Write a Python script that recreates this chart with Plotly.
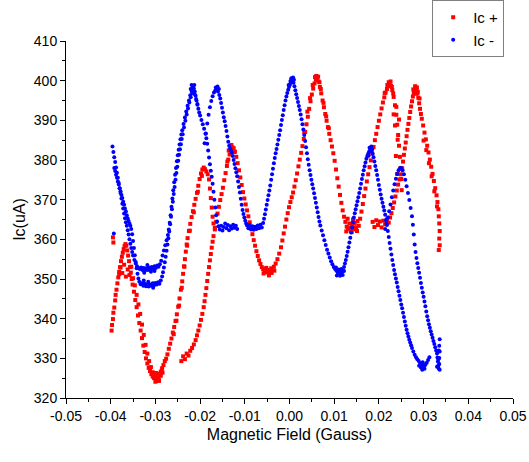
import plotly.graph_objects as go

# Critical current Ic+ (red) and Ic- (blue) versus applied magnetic field.
# Each sweep is stored as (field [G], current [uA]) pairs.

ic_plus_left = [
    (-0.0398, 337.0), (-0.0397, 338.4), (-0.0395, 339.9), (-0.0394, 341.5), (-0.0392, 342.8), (-0.0390, 344.6),
    (-0.0389, 346.0), (-0.0387, 347.3), (-0.0385, 348.9), (-0.0383, 350.4), (-0.0381, 351.8), (-0.0379, 353.0),
    (-0.0377, 354.5), (-0.0375, 355.6), (-0.0373, 356.6), (-0.0371, 357.5), (-0.0369, 358.3), (-0.0367, 358.8),
    (-0.0365, 358.4), (-0.0363, 357.2), (-0.0361, 355.9), (-0.0359, 354.5), (-0.0357, 353.0), (-0.0355, 351.6),
    (-0.0353, 350.0), (-0.0351, 348.6), (-0.0348, 346.8), (-0.0345, 344.7), (-0.0342, 342.9), (-0.0339, 340.8),
    (-0.0336, 338.9), (-0.0333, 337.0), (-0.0330, 335.1), (-0.0327, 333.2), (-0.0324, 331.6), (-0.0321, 330.0),
    (-0.0318, 328.7), (-0.0315, 327.6), (-0.0312, 326.8), (-0.0309, 326.0), (-0.0306, 325.4), (-0.0303, 325.0),
    (-0.0300, 325.6), (-0.0297, 324.7), (-0.0294, 325.3), (-0.0291, 326.0), (-0.0288, 326.6), (-0.0285, 327.5),
    (-0.0282, 328.3), (-0.0279, 329.3), (-0.0276, 329.9), (-0.0273, 331.0), (-0.0270, 332.4), (-0.0267, 333.7),
    (-0.0264, 335.0), (-0.0261, 336.5), (-0.0258, 337.9), (-0.0255, 339.4), (-0.0252, 341.1), (-0.0249, 343.0),
    (-0.0246, 345.1), (-0.0243, 347.3), (-0.0240, 349.4), (-0.0238, 351.3), (-0.0236, 353.2), (-0.0234, 355.0),
    (-0.0232, 356.9), (-0.0230, 358.7), (-0.0228, 360.3), (-0.0225, 362.1), (-0.0222, 363.9), (-0.0219, 365.6),
    (-0.0216, 367.1), (-0.0213, 368.7), (-0.0210, 370.2), (-0.0207, 371.7), (-0.0204, 373.5), (-0.0201, 375.2),
    (-0.0198, 376.6), (-0.0195, 377.6), (-0.0192, 378.1), (-0.0189, 377.7), (-0.0186, 377.1), (-0.0183, 376.4),
    (-0.0180, 375.1), (-0.0178, 372.8), (-0.0176, 370.4), (-0.0174, 368.0), (-0.0172, 365.7), (-0.0170, 364.0),
    (-0.0167, 362.9),
]

ic_plus_left_band = [
    (-0.0395, 360.5), (-0.0394, 359.2), (-0.0381, 351.2), (-0.0378, 352.9), (-0.0374, 351.5), (-0.0370, 353.6),
    (-0.0366, 350.6), (-0.0362, 352.4), (-0.0358, 351.0), (-0.0354, 353.1), (-0.0350, 350.2), (-0.0346, 348.4),
    (-0.0342, 346.0), (-0.0338, 343.6), (-0.0334, 341.2), (-0.0330, 338.5), (-0.0326, 335.9), (-0.0322, 333.4),
    (-0.0318, 331.2), (-0.0314, 329.3), (-0.0310, 327.8), (-0.0306, 326.5), (-0.0302, 325.9), (-0.0298, 326.3),
    (-0.0292, 324.5), (-0.0289, 325.9), (-0.0286, 326.9),
]

ic_plus_mid = [
    (-0.0242, 329.3), (-0.0238, 330.5), (-0.0234, 329.8), (-0.0230, 331.2), (-0.0226, 330.7), (-0.0222, 331.9),
    (-0.0218, 332.6), (-0.0214, 333.5), (-0.0210, 334.6), (-0.0207, 335.8), (-0.0204, 337.0), (-0.0201, 338.3),
    (-0.0198, 339.7), (-0.0195, 341.2), (-0.0192, 342.9), (-0.0190, 344.4), (-0.0188, 346.0), (-0.0186, 347.7),
    (-0.0184, 349.5), (-0.0182, 351.3), (-0.0180, 353.0), (-0.0178, 354.7), (-0.0176, 356.3), (-0.0174, 357.9),
    (-0.0172, 359.4), (-0.0170, 360.8), (-0.0167, 362.5), (-0.0164, 364.4), (-0.0161, 366.5), (-0.0158, 368.2),
    (-0.0155, 369.9), (-0.0152, 371.4), (-0.0149, 373.0), (-0.0146, 374.9), (-0.0143, 376.7), (-0.0140, 378.5),
    (-0.0137, 380.1), (-0.0134, 381.4), (-0.0131, 382.4), (-0.0128, 383.2), (-0.0125, 383.0), (-0.0122, 382.1),
    (-0.0119, 380.8), (-0.0116, 379.2), (-0.0113, 377.4), (-0.0110, 375.6), (-0.0107, 373.7), (-0.0104, 371.9),
    (-0.0101, 370.3), (-0.0098, 368.8), (-0.0095, 367.3), (-0.0092, 365.8), (-0.0089, 364.3), (-0.0086, 362.8),
    (-0.0083, 361.3), (-0.0080, 359.8), (-0.0077, 358.4), (-0.0074, 357.0), (-0.0071, 355.8), (-0.0068, 354.7),
    (-0.0065, 353.8), (-0.0062, 353.0), (-0.0059, 352.5), (-0.0056, 352.0), (-0.0053, 351.7), (-0.0050, 352.3),
    (-0.0047, 351.6), (-0.0044, 352.1), (-0.0041, 352.7), (-0.0038, 352.3), (-0.0035, 353.1), (-0.0031, 353.9),
    (-0.0027, 355.0), (-0.0023, 356.4), (-0.0019, 358.0), (-0.0016, 359.7), (-0.0013, 361.5), (-0.0010, 363.2),
    (-0.0007, 365.0), (-0.0004, 366.6), (-0.0001, 368.1), (0.0002, 369.4), (0.0005, 370.6), (0.0008, 371.8),
    (0.0011, 373.3), (0.0014, 374.9), (0.0017, 376.6), (0.0020, 378.4), (0.0023, 380.1), (0.0026, 381.8),
    (0.0029, 383.5), (0.0032, 385.3), (0.0035, 387.1), (0.0038, 389.0), (0.0041, 390.9), (0.0044, 392.9),
    (0.0047, 394.8), (0.0050, 396.5), (0.0053, 398.0), (0.0056, 399.3), (0.0059, 400.2), (0.0062, 400.6),
    (0.0065, 399.8), (0.0068, 398.4), (0.0071, 396.8), (0.0074, 395.0), (0.0077, 393.3), (0.0080, 391.6),
    (0.0083, 389.9), (0.0086, 388.3), (0.0089, 386.6), (0.0092, 385.0), (0.0095, 383.4), (0.0098, 381.7),
    (0.0101, 379.8), (0.0104, 377.6), (0.0107, 375.4), (0.0110, 373.3), (0.0113, 371.2), (0.0116, 369.2),
    (0.0119, 367.3), (0.0122, 365.7), (0.0125, 364.4), (0.0128, 363.2), (0.0131, 362.6), (0.0134, 364.0),
    (0.0137, 362.3), (0.0140, 363.7), (0.0143, 362.5), (0.0146, 364.1), (0.0149, 363.0), (0.0152, 364.6),
    (0.0155, 363.4), (0.0158, 365.2), (0.0161, 367.0), (0.0164, 368.9), (0.0167, 370.9), (0.0170, 372.8),
    (0.0173, 374.6), (0.0176, 376.4), (0.0179, 378.2), (0.0182, 379.9), (0.0185, 381.6), (0.0188, 383.3),
    (0.0191, 385.0), (0.0194, 386.6), (0.0197, 388.3), (0.0200, 389.9), (0.0203, 391.5), (0.0206, 393.0),
    (0.0209, 394.5), (0.0212, 395.8), (0.0215, 397.0), (0.0218, 397.9), (0.0221, 398.6), (0.0224, 399.1),
    (0.0227, 398.7), (0.0230, 397.6), (0.0233, 395.9), (0.0236, 393.8), (0.0239, 391.4), (0.0241, 388.9),
    (0.0243, 386.3), (0.0245, 383.6), (0.0247, 380.8), (0.0249, 378.0), (0.0250, 375.2), (0.0251, 372.4),
]

ic_plus_right = [
    (0.0186, 364.4), (0.0190, 363.1), (0.0194, 364.8), (0.0198, 363.6), (0.0202, 364.5), (0.0206, 363.0),
    (0.0210, 364.7), (0.0214, 363.8), (0.0218, 365.0), (0.0222, 364.2), (0.0225, 365.5), (0.0228, 366.6),
    (0.0231, 367.9), (0.0234, 369.3), (0.0237, 370.8), (0.0240, 372.3), (0.0243, 373.8), (0.0246, 375.1),
    (0.0249, 376.4), (0.0252, 377.9), (0.0254, 379.6), (0.0256, 381.3), (0.0258, 382.9), (0.0260, 384.4),
    (0.0262, 386.0), (0.0264, 387.6), (0.0266, 389.1), (0.0268, 390.6), (0.0270, 392.1), (0.0272, 393.5),
    (0.0274, 394.8), (0.0276, 396.0), (0.0278, 396.9), (0.0280, 397.6), (0.0282, 398.0), (0.0284, 397.6),
    (0.0286, 396.8), (0.0288, 395.7), (0.0290, 394.3), (0.0292, 392.9), (0.0294, 391.6), (0.0296, 390.4),
    (0.0299, 388.7), (0.0302, 386.9), (0.0305, 385.2), (0.0308, 383.6), (0.0311, 381.9), (0.0314, 380.1),
    (0.0317, 378.3), (0.0320, 376.5), (0.0323, 374.7), (0.0326, 372.9), (0.0329, 371.1), (0.0331, 369.4),
    (0.0333, 367.6), (0.0334, 365.8), (0.0335, 364.0), (0.0336, 362.1), (0.0335, 360.2), (0.0336, 358.5),
    (0.0334, 357.3),
    (0.0233, 391.5), (0.0236, 388.7), (0.0239, 393.4), (0.0242, 385.1), (0.0245, 390.2), (0.0238, 381.0),
    (0.0241, 376.5),
]

# scattered readings that thicken the red traces around turning points
ic_plus_spread = [
    (-0.0300, 324.1), (-0.0296, 326.0), (-0.0292, 324.3), (-0.0288, 325.6), (-0.0304, 326.3), (-0.0284, 326.4),
    (-0.0259, 336.1), (-0.0253, 339.5), (-0.0247, 343.3), (-0.0241, 347.8), (-0.0235, 353.1), (-0.0229, 358.4),
    (-0.0223, 362.2), (-0.0214, 366.8), (-0.0205, 372.0), (-0.0196, 376.0),
    (-0.0136, 382.4), (-0.0130, 383.8), (-0.0124, 382.0), (-0.0139, 379.6),
    (-0.0058, 351.4), (-0.0052, 352.8), (-0.0046, 350.9), (-0.0040, 351.5), (-0.0034, 352.1),
    (0.0033, 387.0), (0.0040, 392.2), (0.0046, 395.6), (0.0052, 398.9), (0.0057, 400.9), (0.0060, 401.2),
    (0.0064, 401.0), (0.0067, 399.6), (0.0070, 397.9), (0.0076, 394.4), (0.0082, 391.0), (0.0088, 388.0),
    (0.0127, 362.0), (0.0133, 362.9), (0.0139, 361.8), (0.0145, 363.0), (0.0151, 362.1), (0.0130, 365.2),
    (0.0142, 365.0),
    (0.0213, 396.9), (0.0219, 398.9), (0.0222, 399.6), (0.0226, 399.8), (0.0229, 398.4), (0.0232, 396.8),
    (0.0277, 397.8), (0.0281, 398.6), (0.0285, 398.3), (0.0283, 396.7), (0.0287, 397.2), (0.0291, 395.5),
    (0.0300, 384.9), (0.0306, 382.5), (0.0312, 379.2), (0.0318, 375.9), (0.0324, 372.1), (0.0330, 368.3),
]

ic_minus_upper = [
    (-0.0396, 383.4), (-0.0394, 382.0), (-0.0392, 380.7), (-0.0390, 379.5), (-0.0388, 378.1), (-0.0386, 376.8),
    (-0.0384, 375.5), (-0.0382, 374.2), (-0.0380, 372.9), (-0.0378, 371.7), (-0.0376, 370.3), (-0.0374, 369.0),
    (-0.0372, 367.8), (-0.0370, 366.5), (-0.0368, 365.3), (-0.0366, 364.3), (-0.0364, 363.4), (-0.0362, 362.3),
    (-0.0360, 361.2), (-0.0358, 360.0), (-0.0356, 358.9), (-0.0354, 357.8), (-0.0352, 356.8), (-0.0350, 355.9),
    (-0.0347, 354.8), (-0.0344, 353.9), (-0.0341, 353.2), (-0.0338, 352.8), (-0.0335, 352.5), (-0.0332, 352.9),
    (-0.0329, 352.3), (-0.0326, 352.8), (-0.0323, 352.2), (-0.0320, 352.7), (-0.0317, 352.3), (-0.0314, 352.9),
    (-0.0311, 352.4), (-0.0308, 353.0), (-0.0305, 352.5), (-0.0302, 353.2), (-0.0299, 352.8), (-0.0296, 353.4),
    (-0.0293, 353.1), (-0.0290, 353.7), (-0.0287, 354.6), (-0.0284, 355.9), (-0.0281, 357.2), (-0.0278, 358.5),
    (-0.0275, 359.8), (-0.0272, 361.1), (-0.0270, 362.5), (-0.0268, 364.2), (-0.0266, 366.1), (-0.0264, 368.2),
    (-0.0262, 370.3), (-0.0260, 372.4), (-0.0258, 374.4), (-0.0256, 376.3), (-0.0254, 378.0), (-0.0252, 379.7),
    (-0.0250, 381.2), (-0.0248, 382.6), (-0.0246, 383.9), (-0.0244, 385.2), (-0.0242, 386.4), (-0.0240, 387.5),
    (-0.0237, 389.1), (-0.0234, 390.7), (-0.0231, 392.2), (-0.0228, 393.7), (-0.0225, 395.0), (-0.0222, 396.3),
    (-0.0219, 397.4), (-0.0216, 398.3), (-0.0214, 398.0), (-0.0212, 397.3), (-0.0210, 396.2), (-0.0208, 395.0),
    (-0.0206, 393.9), (-0.0204, 392.9), (-0.0202, 392.0), (-0.0200, 391.2), (-0.0197, 390.1), (-0.0194, 389.0),
    (-0.0191, 387.9), (-0.0188, 386.6), (-0.0186, 385.5), (-0.0184, 384.1), (-0.0182, 382.4), (-0.0180, 380.6),
    (-0.0178, 378.9), (-0.0176, 377.3), (-0.0174, 375.8), (-0.0172, 374.0), (-0.0170, 372.0), (-0.0168, 370.0),
    (-0.0166, 368.0), (-0.0164, 366.1), (-0.0162, 364.5), (-0.0159, 363.3), (-0.0156, 362.5), (-0.0153, 363.4),
    (-0.0150, 362.2), (-0.0147, 363.1), (-0.0144, 364.0), (-0.0141, 362.8), (-0.0138, 363.6), (-0.0135, 362.3),
    (-0.0132, 363.3), (-0.0129, 362.7), (-0.0126, 363.7), (-0.0123, 362.9), (-0.0120, 363.4), (-0.0117, 362.6),
]

ic_minus_lower = [
    (-0.0393, 361.5),
    (-0.0392, 378.0), (-0.0390, 377.2), (-0.0388, 376.3), (-0.0386, 375.5), (-0.0384, 374.6), (-0.0382, 373.8),
    (-0.0380, 372.9), (-0.0378, 372.1), (-0.0376, 371.2), (-0.0374, 370.4), (-0.0372, 369.5), (-0.0370, 368.7),
    (-0.0368, 367.8), (-0.0366, 367.0), (-0.0364, 366.1), (-0.0362, 365.3), (-0.0360, 364.6), (-0.0358, 364.0),
    (-0.0356, 363.4), (-0.0354, 362.6), (-0.0352, 361.3), (-0.0350, 359.6), (-0.0348, 357.8), (-0.0346, 356.0),
    (-0.0344, 354.3), (-0.0342, 352.7), (-0.0340, 351.3), (-0.0338, 350.1), (-0.0336, 349.3), (-0.0333, 348.7),
    (-0.0330, 348.9), (-0.0327, 348.3), (-0.0324, 348.8), (-0.0321, 348.2), (-0.0318, 348.7), (-0.0315, 348.1),
    (-0.0312, 348.6), (-0.0309, 348.3), (-0.0306, 348.9), (-0.0303, 348.4), (-0.0300, 349.0), (-0.0297, 348.6),
    (-0.0294, 349.2), (-0.0291, 348.8), (-0.0288, 349.6), (-0.0285, 350.6), (-0.0283, 351.7), (-0.0281, 352.9),
    (-0.0279, 354.2), (-0.0277, 355.6), (-0.0275, 357.1), (-0.0273, 358.7), (-0.0271, 360.3), (-0.0269, 362.0),
    (-0.0267, 363.8), (-0.0265, 365.7), (-0.0263, 367.6), (-0.0261, 369.5), (-0.0259, 371.4), (-0.0257, 373.2),
    (-0.0255, 375.0), (-0.0253, 376.7), (-0.0251, 378.3), (-0.0249, 379.8), (-0.0247, 381.3), (-0.0245, 382.7),
    (-0.0243, 384.0), (-0.0241, 385.3), (-0.0239, 386.5), (-0.0236, 388.2), (-0.0233, 389.9), (-0.0230, 391.5),
    (-0.0227, 393.0), (-0.0224, 394.5), (-0.0221, 395.8), (-0.0218, 396.9), (-0.0215, 397.4), (-0.0212, 396.6),
    (-0.0209, 395.4), (-0.0206, 394.1),
]

ic_minus_centre = [
    (-0.0190, 384.2), (-0.0187, 386.7), (-0.0184, 389.2), (-0.0181, 391.4), (-0.0178, 393.3), (-0.0175, 394.9),
    (-0.0172, 396.1), (-0.0169, 397.0), (-0.0166, 397.5), (-0.0163, 397.8), (-0.0160, 397.3), (-0.0157, 396.4),
    (-0.0155, 395.5), (-0.0153, 394.4), (-0.0151, 393.2), (-0.0149, 392.0), (-0.0147, 390.8), (-0.0145, 389.8),
    (-0.0143, 388.6), (-0.0141, 387.3), (-0.0139, 385.9), (-0.0137, 384.6), (-0.0135, 383.6), (-0.0133, 382.9),
    (-0.0131, 382.4), (-0.0129, 381.9), (-0.0127, 381.0), (-0.0125, 380.0), (-0.0123, 379.0), (-0.0121, 377.9),
    (-0.0119, 376.9), (-0.0117, 375.9), (-0.0115, 374.6), (-0.0113, 373.2), (-0.0111, 371.8), (-0.0109, 370.2),
    (-0.0107, 368.7), (-0.0105, 367.4), (-0.0103, 366.4), (-0.0101, 365.5), (-0.0099, 364.7), (-0.0097, 364.0),
    (-0.0095, 363.5), (-0.0092, 362.8), (-0.0089, 363.6), (-0.0086, 362.5), (-0.0083, 363.3), (-0.0080, 362.4),
    (-0.0077, 363.2), (-0.0074, 362.6), (-0.0071, 363.5), (-0.0068, 362.8), (-0.0065, 363.7), (-0.0062, 363.0),
    (-0.0059, 364.1), (-0.0057, 365.2), (-0.0055, 366.3), (-0.0053, 367.5), (-0.0051, 368.7), (-0.0049, 369.9),
    (-0.0047, 371.1), (-0.0045, 372.3), (-0.0043, 373.6), (-0.0041, 375.0), (-0.0039, 376.4), (-0.0037, 377.8),
    (-0.0035, 379.2), (-0.0033, 380.5), (-0.0031, 381.7), (-0.0029, 382.8), (-0.0027, 383.9), (-0.0025, 385.1),
    (-0.0023, 386.3), (-0.0021, 387.5), (-0.0019, 388.8), (-0.0017, 390.1), (-0.0015, 391.3), (-0.0013, 392.6),
    (-0.0011, 393.8), (-0.0009, 395.0), (-0.0007, 396.0), (-0.0005, 396.9), (-0.0003, 397.7), (-0.0001, 398.4),
    (0.0001, 399.0), (0.0003, 399.6), (0.0005, 400.0), (0.0007, 400.1), (0.0009, 399.5), (0.0011, 398.6),
    (0.0013, 397.6), (0.0015, 396.6), (0.0017, 395.6), (0.0019, 394.6), (0.0021, 393.6), (0.0023, 392.6),
    (0.0025, 391.5), (0.0027, 390.3), (0.0029, 389.0), (0.0031, 387.7), (0.0033, 386.3), (0.0035, 384.8),
    (0.0037, 383.2), (0.0039, 381.7), (0.0041, 380.2), (0.0043, 378.8), (0.0045, 377.4), (0.0047, 376.2),
    (0.0049, 375.0), (0.0051, 373.9), (0.0053, 372.8), (0.0055, 371.6), (0.0057, 370.4), (0.0059, 369.2),
    (0.0061, 368.0), (0.0063, 366.8), (0.0065, 365.6), (0.0067, 364.5), (0.0069, 363.5), (0.0072, 362.2),
    (0.0075, 361.0), (0.0078, 359.8), (0.0081, 358.6), (0.0084, 357.4), (0.0087, 356.4), (0.0090, 355.4),
    (0.0093, 354.5), (0.0096, 353.7), (0.0099, 353.0), (0.0102, 352.5), (0.0105, 352.1), (0.0108, 351.6),
    (0.0111, 351.9), (0.0114, 351.3), (0.0117, 351.7), (0.0120, 352.1), (0.0122, 353.0), (0.0124, 353.9),
    (0.0126, 354.8), (0.0128, 355.8), (0.0130, 356.9), (0.0132, 358.0), (0.0134, 359.2), (0.0136, 360.4),
    (0.0138, 361.7), (0.0140, 363.0), (0.0142, 364.3), (0.0144, 365.5), (0.0146, 366.6), (0.0148, 367.6),
    (0.0150, 368.6), (0.0152, 369.6), (0.0154, 370.6), (0.0156, 371.7), (0.0158, 372.8), (0.0160, 374.0),
    (0.0162, 375.2), (0.0164, 376.3), (0.0166, 377.4), (0.0168, 378.4), (0.0170, 379.4), (0.0172, 380.3),
    (0.0174, 381.0), (0.0176, 381.6), (0.0178, 382.1), (0.0180, 382.4), (0.0182, 382.6), (0.0184, 382.3),
    (0.0186, 381.6), (0.0188, 380.7), (0.0190, 379.6), (0.0192, 378.5), (0.0194, 377.4), (0.0196, 376.2),
    (0.0198, 375.0), (0.0200, 373.7), (0.0202, 372.5), (0.0204, 371.3), (0.0206, 370.2), (0.0208, 369.2),
    (0.0210, 368.2), (0.0212, 367.3), (0.0214, 366.2), (0.0216, 364.9), (0.0218, 363.6), (0.0220, 362.1),
    (0.0222, 360.6), (0.0224, 359.1), (0.0226, 357.6), (0.0228, 356.2), (0.0230, 354.8), (0.0232, 353.5),
    (0.0234, 352.3), (0.0236, 351.2), (0.0238, 350.1), (0.0240, 349.1), (0.0242, 348.0), (0.0244, 346.9),
    (0.0246, 345.8), (0.0248, 344.7), (0.0250, 343.6), (0.0252, 342.6), (0.0254, 341.5), (0.0256, 340.4),
    (0.0258, 339.3), (0.0260, 338.2), (0.0262, 337.2), (0.0264, 336.3), (0.0266, 335.5), (0.0268, 334.7),
    (0.0270, 334.0), (0.0272, 333.3), (0.0274, 332.6), (0.0277, 331.7), (0.0280, 330.9), (0.0283, 330.3),
    (0.0286, 329.8), (0.0289, 329.3), (0.0292, 328.8), (0.0295, 328.5), (0.0298, 328.2), (0.0301, 328.0),
    (0.0304, 328.4), (0.0307, 328.9), (0.0310, 329.6), (0.0313, 330.3),
]

ic_minus_right = [
    (0.0214, 362.6), (0.0217, 364.0), (0.0220, 365.5), (0.0223, 367.1), (0.0226, 368.8), (0.0229, 370.6),
    (0.0232, 372.3), (0.0235, 373.9), (0.0238, 375.3), (0.0241, 376.5), (0.0244, 377.4), (0.0247, 377.9),
    (0.0250, 378.0), (0.0253, 377.4), (0.0256, 376.4), (0.0259, 375.0), (0.0262, 373.4), (0.0265, 371.7),
    (0.0268, 369.9), (0.0271, 367.9), (0.0274, 365.8), (0.0276, 363.7), (0.0278, 361.2), (0.0280, 358.7),
    (0.0282, 356.8), (0.0284, 355.3), (0.0286, 354.0), (0.0288, 352.8), (0.0290, 351.6), (0.0292, 350.3),
    (0.0294, 349.0), (0.0296, 347.8), (0.0298, 346.6), (0.0300, 345.5), (0.0302, 344.3), (0.0304, 343.1),
    (0.0306, 341.8), (0.0308, 340.6), (0.0310, 339.6), (0.0312, 338.6), (0.0314, 337.7), (0.0316, 336.8),
    (0.0318, 336.0), (0.0320, 335.2), (0.0322, 334.4), (0.0324, 333.6), (0.0326, 332.8), (0.0328, 332.0),
    (0.0330, 331.2), (0.0331, 330.2), (0.0332, 329.2), (0.0333, 328.2), (0.0334, 327.4), (0.0335, 328.6),
    (0.0335, 330.1), (0.0336, 331.7), (0.0335, 333.2), (0.0336, 334.8),
]

# scattered readings that thicken the blue traces around turning points
ic_minus_spread = [
    (-0.0219, 398.9), (-0.0217, 397.6), (-0.0213, 398.9), (-0.0221, 397.9),
    (-0.0165, 398.3), (-0.0161, 398.5), (-0.0158, 397.9),
    (0.0004, 400.6), (0.0008, 400.8), (0.0002, 399.9), (0.0010, 400.2), (-0.0002, 398.9),
    (0.0106, 350.9), (0.0110, 352.4), (0.0113, 350.8), (0.0116, 352.5), (0.0119, 351.0), (0.0104, 352.9),
    (0.0122, 352.0),
    (0.0179, 383.1), (0.0183, 383.4), (0.0185, 382.7), (0.0177, 381.1),
    (0.0290, 328.1), (0.0294, 327.7), (0.0298, 329.0), (0.0302, 327.4), (0.0297, 327.1),
    (0.0330, 327.9), (0.0333, 329.8), (0.0336, 327.1), (0.0334, 332.0),
    (-0.0325, 351.6), (-0.0318, 353.5), (-0.0310, 351.8), (-0.0302, 352.0), (-0.0326, 349.6), (-0.0316, 349.3),
    (-0.0305, 347.8),
]

field_ticks = [-0.05, -0.04, -0.03, -0.02, -0.01, 0.0, 0.01, 0.02, 0.03, 0.04, 0.05]
field_tick_labels = ["-0.05", "-0.04", "-0.03", "-0.02", "-0.01", "0.00",
                     "0.01", "0.02", "0.03", "0.04", "0.05"]
current_ticks = [320, 330, 340, 350, 360, 370, 380, 390, 400, 410]


def unpack(*sweeps):
    xs, ys = [], []
    for sweep in sweeps:
        for x, y in sweep:
            xs.append(x)
            ys.append(y)
    return xs, ys


plus_x, plus_y = unpack(ic_plus_left, ic_plus_left_band, ic_plus_mid, ic_plus_right, ic_plus_spread)
minus_x, minus_y = unpack(ic_minus_upper, ic_minus_lower, ic_minus_centre, ic_minus_right, ic_minus_spread)

FONT = "Arial, 'Liberation Sans', sans-serif"

fig = go.Figure()
fig.add_trace(go.Scatter(
    x=plus_x, y=plus_y, mode="markers", name="Ic +",
    marker=dict(symbol="square", size=4, color="#ff0000", line=dict(width=0)),
))
fig.add_trace(go.Scatter(
    x=minus_x, y=minus_y, mode="markers", name="Ic -",
    marker=dict(symbol="circle", size=4, color="#0000ff", line=dict(width=0)),
))

axis_common = dict(
    showline=True, linecolor="black", linewidth=1, mirror=False,
    ticks="outside", ticklen=5, tickwidth=1, tickcolor="black",
    showgrid=False, zeroline=False,
    tickfont=dict(family=FONT, size=14, color="black"),
)

fig.update_layout(
    width=529, height=462,
    margin=dict(l=66, r=16, t=41, b=64, autoexpand=False),
    paper_bgcolor="white", plot_bgcolor="white",
    font=dict(family=FONT, color="black"),
    showlegend=True,
    legend=dict(
        xref="container", yref="container",
        x=0.817, y=1.0, xanchor="left", yanchor="top",
        bordercolor="#808080", borderwidth=1, bgcolor="white",
        font=dict(family=FONT, size=15, color="black"),
        tracegroupgap=0,
    ),
    xaxis=dict(
        range=[-0.05, 0.05], tickmode="array", tickvals=field_ticks, ticktext=field_tick_labels,
        minor=dict(dtick=0.005, tick0=0, ticks="outside", ticklen=3, tickcolor="black", showgrid=False),
        title=dict(text="Magnetic Field (Gauss)", font=dict(family=FONT, size=16, color="black"), standoff=6),
        **axis_common,
    ),
    yaxis=dict(
        range=[320, 410], tickmode="array", tickvals=current_ticks,
        minor=dict(dtick=5, tick0=320, ticks="outside", ticklen=3, tickcolor="black", showgrid=False),
        title=dict(text="Ic(uA)", font=dict(family=FONT, size=16, color="black"), standoff=4),
        **axis_common,
    ),
)

fig.write_html("out.html")
